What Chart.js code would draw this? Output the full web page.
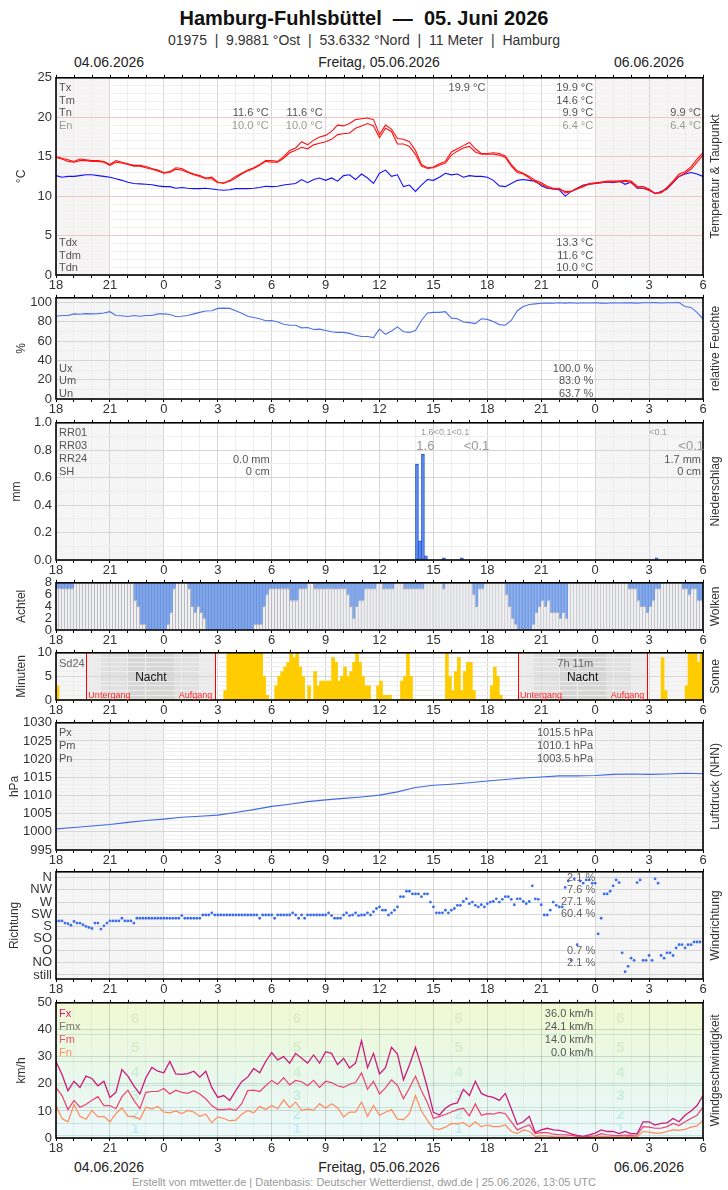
<!DOCTYPE html>
<html>
<head>
<meta charset="utf-8">
<script src="https://cdn.jsdelivr.net/npm/chart.js@4.4.1/dist/chart.umd.min.js"></script>
<style>
  body { margin: 0; width: 728px; height: 1190px; background: #fff; position: relative; overflow: hidden;
         font-family: 'Liberation Sans', Arial, sans-serif; color: #222; }
  .txt { position: absolute; white-space: nowrap; }
</style>
</head>
<body>
<div class="txt" style="left:0;width:728px;top:6px;height:24px;line-height:24px;text-align:center;font-weight:bold;font-size:20px;color:#111">Hamburg-Fuhlsbüttel &nbsp;—&nbsp; 05. Juni 2026</div>
<div class="txt" style="left:0;width:728px;top:31px;height:18px;line-height:18px;text-align:center;font-size:14px;color:#333">01975 &nbsp;| &nbsp;9.9881 °Ost &nbsp;| &nbsp;53.6332 °Nord &nbsp;| &nbsp;11 Meter &nbsp;| &nbsp;Hamburg</div>
<div class="txt" style="left:29px;width:160px;top:53px;line-height:18px;text-align:center;font-size:14px;color:#222">04.06.2026</div>
<div class="txt" style="left:279px;width:200px;top:53px;line-height:18px;text-align:center;font-size:14px;color:#222">Freitag, 05.06.2026</div>
<div class="txt" style="left:569px;width:160px;top:53px;line-height:18px;text-align:center;font-size:14px;color:#222">06.06.2026</div>
<div class="txt" style="left:29px;width:160px;top:1158px;line-height:18px;text-align:center;font-size:14px;color:#222">04.06.2026</div>
<div class="txt" style="left:279px;width:200px;top:1158px;line-height:18px;text-align:center;font-size:14px;color:#222">Freitag, 05.06.2026</div>
<div class="txt" style="left:569px;width:160px;top:1158px;line-height:18px;text-align:center;font-size:14px;color:#222">06.06.2026</div>
<div class="txt" style="left:0;width:728px;top:1175px;line-height:14px;text-align:center;font-size:11px;color:#999">Erstellt von mtwetter.de | Datenbasis: Deutscher Wetterdienst, dwd.de | 25.06.2026, 13:05 UTC</div>

<script>
// time axis: hours since 04.06. 18:00 UTC (0 .. 36)
const hourLabels = ['18', '21', '0', '3', '6', '9', '12', '15', '18', '21', '0', '3', '6'];

// 20-minute series (109 values, 18:00 .. 06:00)
const tempHi = [15.0,14.8,14.6,14.4,14.7,14.6,14.5,14.5,14.4,14.0,14.5,14.3,
  14.1,13.9,13.9,13.75,13.5,13.3,13.0,13.1,13.6,13.5,13.1,12.8,
  12.6,12.3,12.4,11.8,11.6,12.0,12.5,12.9,13.3,13.6,14.0,14.5,
  14.5,14.4,15.0,15.8,16.1,16.9,16.5,17.1,17.5,17.7,18.2,19.0,
  18.9,19.2,19.7,19.8,19.9,19.7,17.8,19.0,18.5,17.3,17.2,16.9,
  15.8,14.0,13.6,13.7,14.1,14.4,15.6,16.0,16.4,16.8,16.0,15.4,
  15.4,15.5,15.4,15.1,14.0,13.2,12.9,12.5,12.0,11.7,11.25,11.0,
  11.0,10.4,10.6,11.0,11.3,11.6,11.7,11.8,11.9,11.9,11.9,12.0,
  11.9,11.25,11.2,10.9,10.3,10.5,11.1,11.9,12.8,13.1,13.7,14.7,15.5];
const tempLo = [14.9,14.7,14.4,14.3,14.5,14.5,14.4,14.4,14.3,13.9,14.3,14.2,
  14.0,13.8,13.8,13.6,13.4,13.2,12.9,13.0,13.4,13.3,13.0,12.7,
  12.5,12.2,12.2,11.7,11.7,11.9,12.3,12.8,13.2,13.5,13.9,14.4,
  14.3,14.3,14.8,15.5,15.8,16.2,16.0,16.5,16.7,16.9,17.2,17.8,
  17.9,18.0,18.6,18.9,19.2,18.9,17.4,18.6,18.2,16.6,16.6,16.3,
  15.3,13.8,13.5,13.6,13.9,14.2,15.2,15.7,16.1,16.3,15.6,15.3,
  15.3,15.3,15.2,14.9,13.8,13.0,12.8,12.3,11.8,11.5,11.1,10.9,
  10.9,10.6,10.6,10.9,11.2,11.5,11.6,11.7,11.8,11.8,11.8,11.9,
  11.7,11.1,11.0,10.7,10.4,10.4,11.0,11.7,12.5,12.9,13.4,14.3,15.2];
const dewPoint = [12.6,12.4,12.5,12.5,12.6,12.7,12.7,12.6,12.5,12.4,12.2,12.0,
  11.75,11.6,11.55,11.5,11.45,11.3,11.2,11.2,11.0,11.1,11.0,10.95,
  10.95,11.0,10.9,10.8,10.75,10.8,10.95,10.95,10.95,11.0,11.1,11.25,
  11.2,11.25,11.4,11.5,11.6,12.1,11.7,12.1,12.3,12.0,12.3,11.9,
  12.6,12.7,12.1,12.8,12.3,11.6,12.9,13.3,12.5,12.7,11.2,11.4,
  10.6,11.4,12.1,12.0,12.4,12.9,12.7,12.8,12.4,12.6,12.5,12.5,
  12.4,12.0,11.3,11.2,11.6,12.0,12.1,12.0,11.9,11.3,11.0,10.9,
  10.8,10.0,10.6,11.0,11.4,11.5,11.6,11.7,11.8,11.7,11.9,11.5,
  11.8,11.0,11.0,10.8,10.3,10.6,10.9,11.7,12.5,12.8,13.0,12.8,12.5];
const humidity = [85.9,86.6,86.6,88.3,88.0,88.6,88.3,88.6,89.3,90.6,86.6,86.3,
  85.6,86.6,85.9,86.6,86.6,88.3,88.3,87.6,85.6,85.9,86.6,88.3,
  89.9,91.3,91.6,94.0,94.3,94.0,91.6,88.9,85.9,84.6,83.2,81.2,
  81.5,79.9,77.5,76.5,76.5,73.8,74.2,72.1,72.5,71.1,69.8,69.1,
  69.1,68.1,66.1,64.8,64.8,63.7,72.5,67.1,70.5,74.8,69.8,69.1,
  71.1,81.5,89.3,89.9,89.9,90.6,83.9,83.2,79.9,79.2,78.2,83.2,
  82.6,80.5,77.2,76.5,81.5,91.6,96.0,98.0,98.7,99.3,99.6,99.3,
  99.8,99.5,99.8,99.4,99.9,99.6,99.8,99.5,99.3,99.8,99.6,99.9,
  99.7,99.5,99.9,99.8,100,99.6,99.8,99.9,100,96.0,95.0,89.9,83.2];
const windMax = [28.3,23.5,17.5,21.0,18.7,22.9,22.0,19.3,21.0,15.0,16.9,25.3,
  22.9,19.3,16.3,22.3,26.1,24.7,24.1,28.3,23.7,23.5,23.8,24.7,
  22.5,24.7,18.7,15.0,15.7,13.9,17.5,20.8,22.5,25.7,24.1,28.3,
  31.6,28.9,30.1,27.7,31.3,29.5,27.7,30.7,27.7,31.9,31.3,27.1,
  29.5,25.9,27.7,36.0,26.0,31.3,23.7,26.0,33.5,31.0,21.5,27.0,
  33.5,26.5,18.5,9.5,8.5,11.0,12.4,13.0,18.0,15.7,21.0,16.5,
  15.5,15.0,13.9,16.5,10.8,5.0,6.0,8.0,2.0,3.0,3.6,3.0,
  2.8,2.4,1.5,1.0,0.6,1.2,1.8,3.0,2.4,2.4,1.6,2.4,
  1.6,1.6,6.0,6.0,4.8,5.4,5.6,7.2,6.0,8.4,10.0,12.0,15.7];
const windMean = [18.7,15.7,10.5,13.9,11.4,12.4,14.0,15.3,12.0,12.0,10.8,15.3,
  17.7,13.9,10.8,16.9,17.2,17.2,18.3,16.3,17.7,16.9,16.5,17.5,
  16.3,14.5,12.0,10.5,10.5,10.8,10.2,12.7,17.5,17.7,17.2,19.3,
  21.3,19.9,22.3,19.6,21.3,20.8,19.3,21.3,18.7,21.0,20.5,19.3,
  18.7,19.9,20.5,24.1,18.0,21.0,16.3,18.5,21.5,19.5,14.5,18.5,
  22.9,17.5,13.0,7.2,8.0,8.7,9.6,10.5,11.0,8.2,12.6,8.4,
  9.0,8.8,9.5,9.0,6.0,3.0,4.0,4.8,1.6,2.0,2.0,1.4,
  1.2,1.2,1.0,0.6,0.4,0.6,0.8,1.6,1.2,1.0,0.9,1.1,
  1.0,1.1,4.2,4.0,3.6,3.6,4.2,5.4,4.6,6.0,7.2,8.4,11.4];
const windMin = [12.0,7.2,6.0,12.4,8.0,6.9,10.2,7.8,8.0,6.0,9.0,11.2,
  8.0,8.0,6.9,11.4,10.8,11.7,9.6,9.3,10.0,9.0,10.2,9.6,
  8.0,8.8,5.7,7.8,7.2,6.4,6.6,8.8,10.2,9.3,11.7,10.5,
  12.0,10.8,14.1,11.2,13.3,10.2,10.8,10.2,12.7,11.0,12.7,11.2,
  7.8,9.6,9.6,13.3,8.0,12.0,8.4,9.5,10.5,7.0,6.8,9.0,
  15.7,10.0,6.5,3.5,3.2,4.0,5.4,5.2,5.7,4.2,6.0,4.2,
  4.8,4.2,4.2,4.8,2.4,1.6,3.0,2.5,0.6,0.8,0.8,0.5,
  0.4,0.4,0.2,0.0,0.0,0.2,0.4,0.6,0.5,0.4,0.4,0.4,
  0.6,0.4,2.4,2.2,1.8,1.8,2.4,3.0,2.8,3.2,4.0,4.5,6.6];

// hourly pressure (37 values)
const pressure = [1000.8,1001.2,1001.6,1002.0,1002.6,1003.1,1003.5,1004.0,1004.3,1004.6,1005.3,1006.1,
  1007.0,1007.6,1008.3,1008.8,1009.2,1009.6,1010.1,1011.0,1012.2,1012.8,1013.1,1013.5,
  1014.0,1014.4,1014.8,1015.1,1015.4,1015.4,1015.5,1015.8,1015.9,1015.8,1015.9,1016.1,1016.0];

// 10-minute slots (216 values)
const cloudOcta = [7,7,7,7,7,7, 8,8,8,8,8,8, 8,8,8,8,8,8, 8,8,8,8,8,8, 8,8,5,4,1,1, 0,0,0,0,0,0,
  0,1,3,7,8,8, 8,8,7,4,3,4, 3,2,0,0,0,0, 0,0,0,0,0,0, 0,0,0,0,0,0, 1,1,1,4,6,7,
  7,7,7,7,7,7, 5,5,5,7,7,7, 8,8,7,7,7,7, 7,7,7,7,7,7, 7,6,4,2,4,5, 5,7,7,7,7,8,
  8,7,7,7,7,8, 8,8,7,7,7,7, 7,7,7,8,8,8, 8,8,8,7,8,8, 8,8,8,8,8,8, 8,6,4,7,7,8,
  8,8,8,8,8,8, 6,4,2,1,0,0, 0,0,0,1,3,4, 5,4,5,3,3,3, 2,3,2,8,8,8, 8,8,8,8,8,8,
  8,8,8,8,8,8, 8,8,8,8,8,7, 7,7,5,4,4,3, 4,5,7,7,8,8, 8,8,8,8,8,7, 7,6,7,7,5,5];
const sunMin = [3,0,0,0,0,0, 0,0,0,0,0,0, 0,0,0,0,0,0, 0,0,0,0,0,0, 0,0,0,0,0,0, 0,0,0,0,0,0,
  0,0,0,0,0,0, 0,0,0,0,0,0, 0,0,0,0,0,0, 0,0,2,10,10,10, 10,10,10,10,10,10, 10,10,10,5,1,0,
  0,3,5,6,7,8, 10,9,10,7,5,0, 3,0,6,3,4,4, 4,4,9,8,4,5, 7,5,6,8,10,8, 5,3,3,0,0,3,
  4,1,1,1,0,0, 0,4,5,10,5,0, 0,0,0,0,0,0, 0,0,0,0,10,5, 2,6,9,2,6,8, 8,2,0,0,0,0,
  0,3,7,5,1,0, 0,0,0,0,0,0, 0,0,0,0,0,0, 0,0,0,0,0,0, 0,0,0,0,0,0, 0,0,0,0,0,0,
  0,0,0,0,0,0, 0,0,0,0,0,0, 0,0,0,0,0,0, 0,0,0,0,9,2, 0,0,0,0,0,0, 3,10,10,10,8,10];
const windDir = [200,200,200,192,190,184,198,192,192,186,180,176,
  172,192,192,170,182,192,200,200,200,200,210,200,
  200,200,192,210,210,210,210,210,210,210,210,210,
  210,210,210,210,210,210,220,210,210,210,210,210,
  210,222,222,222,230,222,222,222,222,222,222,222,
  222,222,222,222,222,222,222,222,210,222,222,222,
  222,210,222,222,222,222,222,230,222,210,222,210,
  222,222,222,222,222,222,222,230,220,210,210,210,
  222,230,220,222,230,220,222,222,230,222,234,246,
  252,240,240,222,230,240,252,290,290,310,310,300,
  300,300,290,300,300,270,252,230,230,230,240,230,
  240,246,258,258,272,282,264,270,258,252,260,252,
  264,270,272,282,270,280,290,290,280,260,282,282,
  272,264,272,330,282,280,260,222,222,240,270,258,
  252,252,324,348,54,356,112,348,340,352,352,340,
  340,152,210,300,300,310,330,352,342,82,12,32,
  62,54,342,352,54,54,72,54,356,340,72,62,
  82,82,72,100,112,112,100,112,112,122,122,122];

// precipitation, sparse 10-minute slots
const precipSlot = [120, 121, 122, 123, 129, 135, 200];
const precipMm = [0.70, 0.14, 0.77, 0.03, 0.015, 0.015, 0.015];

// sun: sunset / sunrise and twilight bands (hours since start)
const sunsets = [1.69, 25.7];
const sunrises = [8.86, 32.9];
const twilightMid = [[2.5, 7.96], [26.6, 32.0]];
const twilightDeep = [[3.95, 6.57], [28.0, 30.6]];

const dirLabels = { 0: 'still', 45: 'NO', 90: 'O', 135: 'SO', 180: 'S', 225: 'SW', 270: 'W', 315: 'NW', 360: 'N' };
const bftEdges = [1, 5.5, 11.5, 19.5, 28.5, 38.5];
const bftMid = [3.25, 8.5, 15.5, 24, 33.5, 44];
const bftHours = [4.4, 13.4, 22.4, 31.4];
const bftColors = ['#c8ecf3', '#c6eee6', '#caeedd', '#d2eed4', '#d9edca', '#e0ecc6'];

const NARROW = "'Liberation Sans Narrow', 'Arial Narrow', 'Liberation Sans', sans-serif";
const SANS = "'Liberation Sans', Arial, sans-serif";
Chart.defaults.font.family = NARROW;
Chart.defaults.color = '#333';

const at20 = arr => arr.map((v, k) => ({ x: k / 3, y: v }));
const at10 = arr => arr.map((v, s) => ({ x: (s + 0.5) / 6, y: v }));
const range = (a, b, st) => { const r = []; for (let v = a; v <= b + 1e-9; v += st) r.push(Math.round(v * 1000) / 1000); return r; };
const hourTicks = range(0, 36, 1);

// panel settings are kept outside the chart options so that functions are not resolved as scriptables
const panelCfg = new WeakMap();

const deco = {
  id: 'deco',
  beforeDraw(chart) {
    const p = panelCfg.get(chart.canvas), ctx = chart.ctx, a = chart.chartArea;
    const x = chart.scales.x, y = chart.scales.y;
    ctx.save();
    ctx.fillStyle = '#f5f5f5';
    (p.shade || []).forEach(([s, e]) => {
      const x0 = x.getPixelForValue(s), x1 = x.getPixelForValue(e);
      ctx.fillRect(x0, a.top, x1 - x0, a.bottom - a.top);
    });
    if (p.background) p.background(ctx, a, x, y);
    ctx.restore();
  },
  beforeDatasetsDraw(chart) {
    const p = panelCfg.get(chart.canvas);
    if (!p.under) return;
    chart.ctx.save();
    p.under(chart.ctx, chart.chartArea, chart.scales.x, chart.scales.y);
    chart.ctx.restore();
  },
  afterDraw(chart) {
    const p = panelCfg.get(chart.canvas), ctx = chart.ctx, a = chart.chartArea;
    const x = chart.scales.x, y = chart.scales.y;
    ctx.save();
    // frame and small hour ticks on the top border
    ctx.strokeStyle = '#000';
    ctx.lineWidth = 1;
    ctx.beginPath();
    hourTicks.forEach(h => {
      const px = Math.round(x.getPixelForValue(h)) + 0.5;
      ctx.moveTo(px, a.top - 3); ctx.lineTo(px, a.top);
    });
    ctx.stroke();
    ctx.lineWidth = 1.6;
    ctx.strokeRect(a.left, a.top, a.right - a.left, a.bottom - a.top);
    // texts
    ctx.textBaseline = 'middle';
    (p.texts || []).forEach(t => {
      ctx.font = (t.bold ? 'bold ' : '') + (t.size || 11) + 'px ' + SANS;
      ctx.fillStyle = t.c || '#555';
      ctx.textAlign = t.al || 'right';
      const px = t.x === undefined ? a.left + 3 : x.getPixelForValue(t.x) + (t.dx || 0);
      const py = t.yv !== undefined ? y.getPixelForValue(t.yv) : a.top + t.dy;
      ctx.fillText(t.t, px, py);
    });
    // axis titles
    ctx.font = '12px ' + SANS;
    ctx.fillStyle = '#333';
    ctx.textAlign = 'center';
    const mid = (a.top + a.bottom) / 2;
    ctx.translate(p.titleX, mid); ctx.rotate(-Math.PI / 2); ctx.fillText(p.title, 0, 0);
    ctx.setTransform(1, 0, 0, 1, 0, 0);
    ctx.translate(716, mid); ctx.rotate(-Math.PI / 2); ctx.fillText(p.rtitle, 0, 0);
    ctx.restore();
  }
};

function panel(p) {
  const padTop = 9, axisH = 18;
  const cv = document.createElement('canvas');
  const h = p.bottom - p.top + padTop + axisH;
  cv.width = 728; cv.height = h;
  cv.style.cssText = 'position:absolute;left:0;top:' + (p.top - padTop) + 'px;width:728px;height:' + h + 'px';
  document.body.appendChild(cv);
  panelCfg.set(cv, p);
  return new Chart(cv, {
    type: 'line',
    data: { datasets: p.datasets },
    options: {
      responsive: false, animation: false, devicePixelRatio: 1,
      layout: { padding: { top: padTop, right: 25, left: 0, bottom: 0 } },
      elements: { point: { radius: 0 }, line: { tension: 0 } },
      plugins: { legend: { display: false }, tooltip: { enabled: false } },
      scales: {
        x: {
          type: 'linear', min: 0, max: 36, offset: false,
          afterFit: s => { s.height = axisH; },
          afterBuildTicks: s => { s.ticks = hourTicks.map(v => ({ value: v })); },
          ticks: { autoSkip: false, maxRotation: 0, padding: 0, font: { size: 13 }, color: '#333',
                   callback: v => (v % 3 === 0 ? hourLabels[v / 3] : '') },
          grid: { offset: false, tickColor: '#000', tickLength: 3,
                  color: c => (c.tick && c.tick.value % 3 === 0 ? (p.vMajor || '#d6d6d6') : (p.vMinor || '#eeeeee')) },
          border: { display: false }
        },
        y: {
          min: p.min, max: p.max,
          afterFit: s => { s.width = 56; },
          afterBuildTicks: s => { s.ticks = p.yTicks.map(v => ({ value: v })); },
          ticks: { autoSkip: false, padding: 4, font: { size: 13 }, color: '#333', callback: p.yLabel },
          grid: { drawTicks: false, color: c => (c.tick ? p.yGrid(c.tick.value) : 'transparent') },
          border: { display: false }
        }
      }
    },
    plugins: [deco]
  });
}

const valCol = (list, dy0, step, x, c) => list.map((t, i) => ({ t, x, dx: -2, dy: dy0 + i * step, c: c && c[i] }));
const labCol = (list, dy0, step, c) => list.map((t, i) => ({ t, al: 'left', dy: dy0 + i * step, c: c && c[i] }));
const barOpts = { type: 'bar', barPercentage: 1, categoryPercentage: 1, grouped: false, borderSkipped: false };

// 1 temperature
panel({
  top: 75, bottom: 275, min: 0, max: 25, yTicks: range(0, 25, 1),
  yLabel: v => (v % 5 === 0 ? String(v) : ''),
  yGrid: v => (v % 5 === 0 ? '#f2c4c4' : '#f6eeee'),
  shade: [[0, 3], [30, 36]], title: '°C', titleX: 22, rtitle: 'Temperatur & Taupunkt',
  texts: [].concat(
    labCol(['Tx', 'Tm', 'Tn', 'En'], 10, 12.8, [null, null, null, '#999']),
    labCol(['Tdx', 'Tdm', 'Tdn'], 165, 12.8),
    [{ t: '11.6 °C', x: 12, dx: -3, dy: 35.6 }, { t: '10.0 °C', x: 12, dx: -3, dy: 48.4, c: '#999' },
     { t: '11.6 °C', x: 15, dx: -3, dy: 35.6 }, { t: '10.0 °C', x: 15, dx: -3, dy: 48.4, c: '#999' },
     { t: '19.9 °C', x: 24, dx: -2, dy: 10 }],
    valCol(['19.9 °C', '14.6 °C', '9.9 °C', '6.4 °C'], 10, 12.8, 30, [null, null, null, '#999']),
    valCol(['9.9 °C', '6.4 °C'], 35.6, 12.8, 36, [null, '#999']),
    valCol(['13.3 °C', '11.6 °C', '10.0 °C'], 165, 12.8, 30)
  ),
  datasets: [
    { data: at20(tempLo), borderColor: '#ff1010', borderWidth: 1.1 },
    { data: at20(tempHi), borderColor: '#ff1010', borderWidth: 1.1 },
    { data: at20(dewPoint), borderColor: '#1010ff', borderWidth: 1.1 }
  ]
});

// 2 humidity
panel({
  top: 295, bottom: 399, min: 0, max: 105, yTicks: range(0, 100, 10),
  yLabel: v => (v % 20 === 0 ? String(v) : ''),
  yGrid: v => (v % 20 === 0 ? '#d6d6d6' : '#ededed'),
  shade: [[0, 6], [30, 36]], title: '%', titleX: 22, rtitle: 'relative Feuchte',
  texts: [].concat(labCol(['Ux', 'Um', 'Un'], 71, 12.5), valCol(['100.0 %', '83.0 %', '63.7 %'], 71, 12.5, 30)),
  datasets: [{ data: at20(humidity), borderColor: '#4a72e8', borderWidth: 1.1 }]
});

// 3 precipitation
panel({
  top: 420, bottom: 560, min: 0, max: 1, yTicks: range(0, 1, 0.1),
  yLabel: v => (Math.round(v * 10) % 2 === 0 ? v.toFixed(1) : ''),
  yGrid: v => (Math.round(v * 10) % 2 === 0 ? '#d6d6d6' : '#ededed'),
  shade: [[0, 6], [30, 36]], title: 'mm', titleX: 17, rtitle: 'Niederschlag',
  texts: [].concat(
    labCol(['RR01', 'RR03', 'RR24', 'SH'], 10, 12.9),
    [{ t: '1.6', x: 21, dx: 0, dy: 10, size: 9, c: '#999' }, { t: '<0.1', x: 22, dx: 0, dy: 10, size: 9, c: '#999' },
     { t: '<0.1', x: 23, dx: 0, dy: 10, size: 9, c: '#999' }, { t: '<0.1', x: 34, dx: 0, dy: 10, size: 9, c: '#999' },
     { t: '1.6', x: 21, dx: 1, dy: 24, size: 13, c: '#999' }, { t: '<0.1', x: 24, dx: 2, dy: 24, size: 13, c: '#999' },
     { t: '<0.1', x: 36, dx: 1, dy: 24, size: 13, c: '#999' },
     { t: '0.0 mm', x: 12, dx: -2, dy: 36.7 }, { t: '0 cm', x: 12, dx: -2, dy: 49 },
     { t: '1.7 mm', x: 36, dx: -2, dy: 36.7 }, { t: '0 cm', x: 36, dx: -2, dy: 49 }]
  ),
  datasets: [Object.assign({
    data: precipSlot.map((s, i) => ({ x: (s + 0.5) / 6, y: precipMm[i] })),
    backgroundColor: '#5b8ff2', borderColor: '#2252cc', borderWidth: 1
  }, barOpts)]
});

// 4 clouds
panel({
  top: 580, bottom: 630, min: 0, max: 8, yTicks: range(0, 8, 2),
  yLabel: v => String(v), yGrid: () => 'transparent',
  title: 'Achtel', titleX: 22, rtitle: 'Wolken',
  datasets: [
    Object.assign({ data: cloudOcta.map((c, s) => ({ x: (s + 0.5) / 6, y: [0, c] })),
      backgroundColor: '#f0f0f2', borderColor: '#a9abb3', borderWidth: { top: 1, right: 1, left: 0, bottom: 0 } }, barOpts),
    Object.assign({ data: cloudOcta.map((c, s) => ({ x: (s + 0.5) / 6, y: [c, 8] })),
      backgroundColor: '#7ea5ea', borderColor: '#6a90d8', borderWidth: { top: 0, right: 1, left: 0, bottom: 0 } }, barOpts)
  ]
});

// 5 sunshine
panel({
  top: 650, bottom: 700, min: 0, max: 10, yTicks: range(0, 10, 1),
  yLabel: v => (v % 5 === 0 ? String(v) : ''),
  yGrid: v => (v % 5 === 0 ? '#d6d6d6' : '#eeeeee'),
  shade: [[0, 6], [30, 36]], title: 'Minuten', titleX: 22, rtitle: 'Sonne',
  background(ctx, a, x) {
    const band = (s, e, col) => {
      ctx.fillStyle = col;
      ctx.fillRect(x.getPixelForValue(s), a.top, x.getPixelForValue(e) - x.getPixelForValue(s), a.bottom - a.top);
    };
    sunsets.forEach((s, i) => {
      band(s, sunrises[i], '#ebebeb');
      band(twilightMid[i][0], twilightMid[i][1], '#e1e1e1');
      band(twilightDeep[i][0], twilightDeep[i][1], '#d6d6d6');
    });
  },
  under(ctx, a, x) {
    ctx.strokeStyle = '#ff0000'; ctx.lineWidth = 1;
    ctx.beginPath();
    sunsets.concat(sunrises).forEach(v => {
      const px = Math.round(x.getPixelForValue(v)) + 0.5;
      ctx.moveTo(px, a.top); ctx.lineTo(px, a.bottom);
    });
    ctx.stroke();
  },
  texts: [].concat(
    [{ t: 'Sd24', al: 'left', dy: 11, c: '#666' }, { t: '7h 11m', x: 30, dx: -2, dy: 11, c: '#666' }],
    sunsets.map((s, i) => ({ t: 'Nacht', x: (s + sunrises[i]) / 2, al: 'center', dy: 25, size: 12, c: '#111' })),
    sunsets.map(s => ({ t: 'Untergang', x: s, dx: 2, al: 'left', dy: 43, size: 9, c: '#ff2424' })),
    sunrises.map(s => ({ t: 'Aufgang', x: s, dx: -3, al: 'right', dy: 43, size: 9, c: '#ff2424' }))
  ),
  datasets: [Object.assign({ data: at10(sunMin), backgroundColor: '#ffcc00', borderWidth: 0 }, barOpts)]
});

// 6 pressure
panel({
  top: 720, bottom: 850, min: 995, max: 1030, yTicks: range(995, 1030, 1),
  yLabel: v => (v % 5 === 0 ? String(v) : ''),
  yGrid: v => (v % 5 === 0 ? '#d6d6d6' : '#efefef'),
  shade: [[0, 6], [30, 36]], title: 'hPa', titleX: 15, rtitle: 'Luftdruck (NHN)',
  texts: [].concat(labCol(['Px', 'Pm', 'Pn'], 10, 13.2), valCol(['1015.5 hPa', '1010.1 hPa', '1003.5 hPa'], 10, 13.2, 30)),
  datasets: [{ data: pressure.map((v, h) => ({ x: h, y: v })), borderColor: '#3e6ae6', borderWidth: 1.1 }]
});

// 7 wind direction
panel({
  top: 869, bottom: 979, min: -15, max: 382, yTicks: range(0, 360, 45),
  yLabel: v => dirLabels[v] || '',
  yGrid: () => '#d6d6d6',
  shade: [[0, 6], [30, 36]], title: 'Richtung', titleX: 15, rtitle: 'Windrichtung',
  texts: [['2.1 %', 360], ['7.6 %', 315], ['27.1 %', 270], ['60.4 %', 225], ['0.7 %', 90], ['2.1 %', 45]]
    .map(([t, v]) => ({ t, x: 30, dx: 0, yv: v, c: '#666' })),
  datasets: [{ data: windDir.map((v, s) => ({ x: s / 6, y: v })), showLine: false,
    pointRadius: 1.4, pointBackgroundColor: '#3a6cf0', pointBorderWidth: 0 }]
});

// 8 wind speed
panel({
  top: 1000, bottom: 1138, min: 0, max: 50, yTicks: range(0, 50, 10),
  yLabel: v => String(v), yGrid: () => 'rgba(0,0,0,0.13)',
  vMajor: 'rgba(0,0,0,0.14)', vMinor: 'rgba(0,0,0,0.04)',
  title: 'km/h', titleX: 22, rtitle: 'Windgeschwindigkeit',
  background(ctx, a, x, y) {
    const g = ctx.createLinearGradient(0, a.bottom, 0, a.top);
    g.addColorStop(0, '#eef8fb'); g.addColorStop(0.45, '#e8f8ec'); g.addColorStop(1, '#f1f9d2');
    ctx.fillStyle = g;
    ctx.fillRect(a.left, a.top, a.right - a.left, a.bottom - a.top);
    ctx.strokeStyle = '#c3e5da'; ctx.lineWidth = 1;
    ctx.beginPath();
    bftEdges.forEach(v => {
      const py = Math.round(y.getPixelForValue(v)) + 0.5;
      ctx.moveTo(a.left, py); ctx.lineTo(a.right, py);
    });
    ctx.stroke();
  },
  under(ctx, a, x, y) {
    ctx.font = 'bold 15px ' + SANS; ctx.textAlign = 'center'; ctx.textBaseline = 'middle';
    bftHours.forEach(hh => bftMid.forEach((m, i) => {
      ctx.fillStyle = bftColors[i];
      ctx.fillText(String(i + 1), x.getPixelForValue(hh), y.getPixelForValue(m));
    }));
  },
  texts: [].concat(
    labCol(['Fx', 'Fmx', 'Fm', 'Fn'], 11, 12.9, ['#d0187c', '#777', '#f0506e', '#ff8f5e']),
    valCol(['36.0 km/h', '24.1 km/h', '14.0 km/h', '0.0 km/h'], 11, 12.9, 30)
  ),
  datasets: [
    { data: at20(windMin), borderColor: '#ff8a5a', borderWidth: 1.2 },
    { data: at20(windMean), borderColor: '#ee4070', borderWidth: 1.2 },
    { data: at20(windMax), borderColor: '#cc1a7a', borderWidth: 1.3 }
  ]
});
</script>
</body>
</html>
